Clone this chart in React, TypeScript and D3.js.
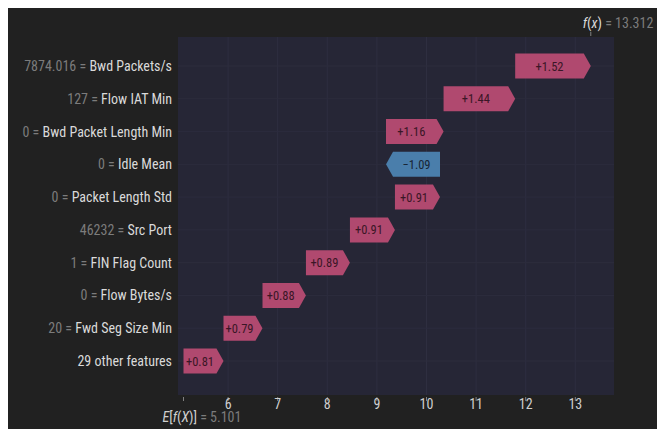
import React from "react";
import * as d3 from "d3";

const featureValues = ["7874.016", "127", "0", "0", "0", "46232", "1", "0", "20", ""];
const featureNames = [
  "Bwd Packets/s",
  "Flow IAT Min",
  "Bwd Packet Length Min",
  "Idle Mean",
  "Packet Length Std",
  "Src Port",
  "FIN Flag Count",
  "Flow Bytes/s",
  "Fwd Seg Size Min",
  "29 other features",
];
const shapValues = [1.524, 1.444, 1.16, -1.088, 0.908, 0.908, 0.887, 0.876, 0.786, 0.806];
const baseValue = 5.101;
const fxValue = 13.312;
const tickValues = [6, 7, 8, 9, 10, 11, 12, 13];

const W = 655;
const H = 421;
const FONT = "'Liberation Sans Narrow', 'Roboto Condensed', 'Liberation Sans', Arial, sans-serif";
const POS = "#b0496f";
const NEG = "#4a7eab";

export default function App() {
  const x = d3.scaleLinear().domain([4.99, 13.78]).range([170, 606]);
  const y = d3.scalePoint<string>().domain(featureNames).range([58, 353]);
  const plotTop = 29;
  const plotBottom = 387;
  const barH = 25;

  // cumulative from bottom
  const n = featureNames.length;
  const starts: number[] = new Array(n);
  let acc = baseValue;
  for (let i = n - 1; i >= 0; i--) {
    starts[i] = acc;
    acc += shapValues[i];
  }

  const arrow = (i: number) => {
    const v = shapValues[i];
    const s = starts[i];
    const e = s + v;
    const cy = y(featureNames[i])!;
    const x0 = x(s);
    const x1 = x(e);
    const hl = Math.min(7, Math.abs(x1 - x0));
    const t = cy - barH / 2;
    const b = cy + barH / 2;
    const pts =
      v >= 0
        ? [[x0, t], [x1 - hl, t], [x1, cy], [x1 - hl, b], [x0, b]]
        : [[x0, t], [x1 + hl, t], [x1, cy], [x1 + hl, b], [x0, b]];
    const mid = v >= 0 ? (x0 + x1 - hl) / 2 : (x0 + x1 + hl) / 2;
    const label = (v >= 0 ? "+" : "\u2212") + Math.abs(v).toFixed(2);
    return (
      <g key={i}>
        <polygon points={pts.map((p) => p.join(",")).join(" ")} fill={v >= 0 ? POS : NEG} />
        <text x={mid} y={cy + 4.5} textAnchor="middle" fontSize={12.5} fill={v >= 0 ? "#3a1626" : "#182636"} fontFamily={FONT}>
          {label}
        </text>
      </g>
    );
  };

  return (
    <svg width={W} height={H} style={{ display: "block" }} fontFamily={FONT}>
      <rect x={0} y={0} width={W} height={H} fill="#212121" />
      <rect x={170} y={plotTop} width={606 - 170} height={plotBottom - plotTop} fill="#262636" />
      {tickValues.map((t) => (
        <line key={"vg" + t} x1={x(t)} x2={x(t)} y1={plotTop} y2={plotBottom} stroke="#2e2e40" strokeWidth={1} />
      ))}
      {featureNames.map((f) => (
        <line key={"hg" + f} x1={170} x2={606} y1={y(f)!} y2={y(f)!} stroke="#2c2c3d" strokeWidth={1} />
      ))}
      {featureNames.map((_, i) => arrow(i))}
      {featureNames.map((f, i) => (
        <text key={"lab" + f} x={164} y={y(f)! + 5} textAnchor="end" fontSize={14}>
          {featureValues[i] !== "" && <tspan fill="#7c7c7c">{featureValues[i]} = </tspan>}
          <tspan fill="#dadada">{f}</tspan>
        </text>
      ))}
      {/* bottom axis */}
      {[baseValue, ...tickValues].map((t) => (
        <line key={"tk" + t} x1={x(t)} x2={x(t)} y1={plotBottom + 2} y2={plotBottom + 6} stroke="#9a9a9a" strokeWidth={0.8} />
      ))}
      {tickValues.map((t) => (
        <text key={"tl" + t} x={x(t)} y={plotBottom + 14} textAnchor="middle" fontSize={14} fill="#cfcfcf">
          {t}
        </text>
      ))}
      <text x={x(baseValue) - 21} y={plotBottom + 27} fontSize={14} fill="#cfcfcf">
        <tspan fontStyle="italic">E</tspan>
        <tspan>[</tspan>
        <tspan fontStyle="italic">f</tspan>
        <tspan>(</tspan>
        <tspan fontStyle="italic">X</tspan>
        <tspan>)] </tspan>
        <tspan fill="#7c7c7c"> = {baseValue.toFixed(3)}</tspan>
      </text>
      {/* top f(x) */}
      <line x1={x(fxValue)} x2={x(fxValue)} y1={plotTop - 5} y2={plotTop - 1} stroke="#9a9a9a" strokeWidth={0.8} />
      <text x={x(fxValue) - 8} y={plotTop - 9} fontSize={14} fill="#dadada">
        <tspan fontStyle="italic">f</tspan>
        <tspan>(</tspan>
        <tspan fontStyle="italic">x</tspan>
        <tspan>)</tspan>
        <tspan fill="#7c7c7c"> = {fxValue.toFixed(3)}</tspan>
      </text>
    </svg>
  );
}
